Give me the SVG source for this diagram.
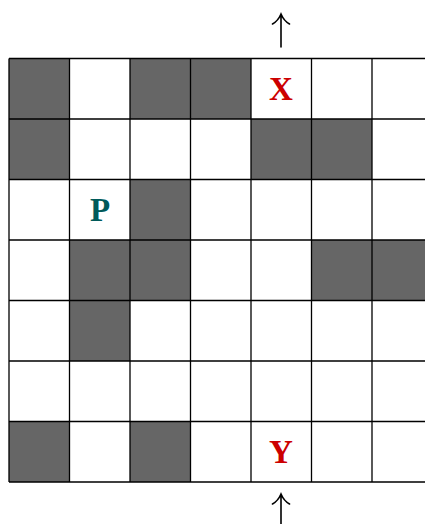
<svg xmlns="http://www.w3.org/2000/svg" width="425" height="524" viewBox="0 0 425 524">
<style>
.d{fill:#666666}
.g{stroke:#000;stroke-width:1.3;fill:none}
.t{font-family:"Liberation Serif",serif;font-weight:bold;font-size:33px;text-anchor:middle}
.a{stroke:#000;stroke-width:1.6;fill:none;stroke-linecap:round}
</style>
<rect width="425" height="524" fill="#fff"/>
<g id="cells">
<rect class="d" x="9" y="58.5" width="60.5" height="60.5"/>
<rect class="d" x="130" y="58.5" width="60.5" height="60.5"/>
<rect class="d" x="190.5" y="58.5" width="60.5" height="60.5"/>
<rect class="d" x="9" y="119" width="60.5" height="60.5"/>
<rect class="d" x="251" y="119" width="60.5" height="60.5"/>
<rect class="d" x="311.5" y="119" width="60.5" height="60.5"/>
<rect class="d" x="130" y="179.5" width="60.5" height="60.5"/>
<rect class="d" x="69.5" y="240" width="60.5" height="60.5"/>
<rect class="d" x="130" y="240" width="60.5" height="60.5"/>
<rect class="d" x="311.5" y="240" width="60.5" height="60.5"/>
<rect class="d" x="372" y="240" width="60.5" height="60.5"/>
<rect class="d" x="69.5" y="300.5" width="60.5" height="60.5"/>
<rect class="d" x="9" y="421.5" width="60.5" height="60.5"/>
<rect class="d" x="130" y="421.5" width="60.5" height="60.5"/>
</g>
<g id="grid" class="g">
<path d="M9 58.5H425M9 119H425M9 179.5H425M9 240H425M9 300.5H425M9 361H425M9 421.5H425M9 482H425"/>
<path d="M9 58.5V482M69.5 58.5V482M130 58.5V482M190.5 58.5V482M251 58.5V482M311.5 58.5V482M372 58.5V482"/>
</g>
<g id="labels">
<text id="X" class="t" x="281" y="100" fill="#cc0000">X</text>
<text id="P" class="t" x="100" y="221" fill="#005a5a">P</text>
<text id="Y" class="t" x="281" y="463" fill="#cc0000">Y</text>
</g>
<g id="connectors" class="a">
<path d="M281 47V15M272.5 24Q278 21 281 14Q284 21 289.5 24"/>
<path d="M281 524V495M272.5 504Q278 501 281 494Q284 501 289.5 504"/>
</g>
</svg>
